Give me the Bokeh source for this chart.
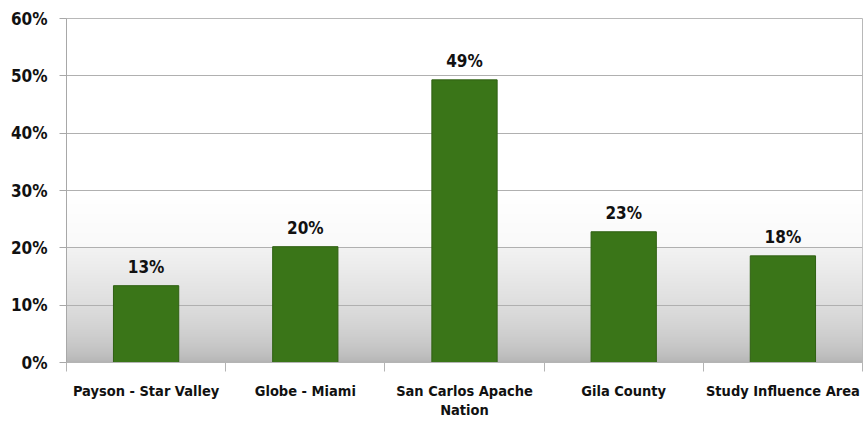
import numpy as np
from bokeh.plotting import figure
from bokeh.models import Range1d, FixedTicker, ColumnDataSource
from bokeh.core.properties import value
from bokeh.embed import file_html
from bokeh.resources import INLINE

categories = ["Payson - Star Valley", "Globe - Miami", "San Carlos Apache\nNation", "Gila County", "Study Influence Area"]
values = [13.4, 20.2, 49.3, 22.8, 18.6]
labels = ["13%", "20%", "49%", "23%", "18%"]
y_ticks = [0, 10, 20, 30, 40, 50, 60]

FONT = "DejaVu Sans Condensed"
BAR = "#3a7518"

p = figure(width=864, height=435, output_backend="svg", toolbar_location=None,
           x_range=Range1d(0, len(categories)), y_range=Range1d(0, 60),
           min_border_left=66, min_border_right=2, min_border_top=18, min_border_bottom=73)
p.outline_line_color = "#b8b8b8"
p.background_fill_color = "white"
p.border_fill_color = "white"

# background shading (decorative gradient, bottom 30% of the plot area)
rows = 300
yy = (np.arange(rows) + 0.5) / rows * 30.0
g = np.where(yy < 20,
             176 + (242 - 176) * (yy / 20.0) ** 0.55,
             249 + (255 - 249) * (yy - 20) / 10.0)
g = np.clip(np.round(g), 0, 255).astype(np.uint32)
rgba = (255 << 24) | (g << 16) | (g << 8) | g
img = rgba.reshape(rows, 1).repeat(2, axis=1)
p.image_rgba(image=[img], x=0, y=0, dw=len(categories), dh=30, level="image")

xc = [i + 0.5 for i in range(len(categories))]
src = ColumnDataSource(dict(x=xc, top=values, lab=labels))
p.vbar(x="x", top="top", bottom=0, width=0.41, source=src,
       fill_color=BAR, line_color="#2f6012", line_width=1)
p.text(x="x", y="top", text="lab", source=src, text_align="center",
       text_baseline="bottom", y_offset=-9, text_font=value(FONT),
       text_font_style="bold", text_font_size="17px", text_color="#111111")

# y axis
p.yaxis.ticker = FixedTicker(ticks=y_ticks)
p.yaxis.major_label_overrides = {t: f"{t}%" for t in y_ticks}
p.yaxis.major_label_text_font = FONT
p.yaxis.major_label_text_font_style = "bold"
p.yaxis.major_label_text_font_size = "17px"
p.yaxis.major_label_text_color = "#111111"
p.yaxis.axis_line_color = "#a8a8a8"
p.yaxis.major_tick_line_color = "#a8a8a8"
p.yaxis.major_tick_out = 7
p.yaxis.major_tick_in = 0
p.yaxis.minor_tick_line_color = None
p.yaxis.major_label_standoff = 12

p.ygrid.ticker = FixedTicker(ticks=y_ticks)
p.ygrid.grid_line_color = "#b0b0b0"
p.ygrid.level = "underlay"
p.xgrid.grid_line_color = None

# x axis: labels at category centres, ticks at category boundaries (minor ticks)
p.xaxis.ticker = FixedTicker(ticks=xc, minor_ticks=list(range(len(categories) + 1)))
p.xaxis.major_label_overrides = {x: c for x, c in zip(xc, categories)}
p.xaxis.major_label_text_font = FONT
p.xaxis.major_label_text_font_style = "bold"
p.xaxis.major_label_text_font_size = "14.5px"
p.xaxis.major_label_text_color = "#111111"
p.xaxis.major_label_standoff = 11
p.xaxis.axis_line_color = "#b4b4b4"
p.xaxis.major_tick_line_color = None
p.xaxis.major_tick_out = 9
p.xaxis.major_tick_in = 0
p.xaxis.minor_tick_line_color = "#b4b4b4"
p.xaxis.minor_tick_out = 9
p.xaxis.minor_tick_in = 0

open("out.html", "w").write(file_html(p, INLINE))
